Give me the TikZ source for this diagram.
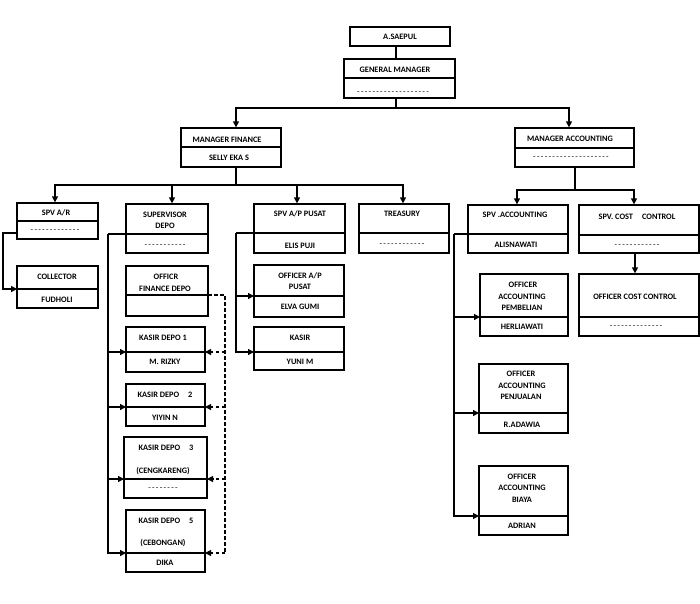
\documentclass[tikz,border=0pt]{standalone}
\usepackage{fontspec}
\setmainfont{Carlito}
\usetikzlibrary{arrows.meta}
\ExplSyntaxOn
\NewDocumentCommand\dashrow{m}{\prg_replicate:nn{#1}{-\kern1.3pt}\kern-1.3pt}
\ExplSyntaxOff
\tikzset{
 box/.style={draw, line width=1.3pt, inner sep=0pt, rectangle},
 divl/.style={line width=1.3pt},
 conn/.style={line width=1.3pt},
 arr/.style={conn, -{Triangle[length=6pt,width=6pt]}},
 dsh/.style={line width=1.1pt, dash pattern=on 3.5pt off 2.5pt},
 darr/.style={dsh, -{Triangle[length=6pt,width=6pt]}},
 txt/.style={inner sep=0pt, font=\bfseries\fontsize{8.3}{10}\selectfont},
 dtxt/.style={inner sep=0pt, font=\fontsize{8.3}{10}\selectfont},
}
\newcommand\obox[6]{%
 \node[box, minimum width={(#4-#2)*1pt}, minimum height={(#5-#3)*1pt}] (#1) at ({(#2+#4)/2},{(#3+#5)/2}) {};
 \coordinate (#1-d) at (#2,#6);
 \coordinate (#1-e) at (#4,#6);
 \draw[divl] (#1-d) -- (#1-e);}
\newcommand\tx[4]{\node[txt] (#1) at (#2,#3) {#4};}
\newcommand\dx[4]{\node[dtxt] (#1) at (#2,#3) {\dashrow{#4}};}
\begin{document}
\begin{tikzpicture}[x=1pt,y=-1pt]
\fill[white] (0,0) rectangle (700,603);
\useasboundingbox (0,0) rectangle (700,603);

% boxes
\node[box, minimum width=100pt, minimum height=19pt] (saepul) at (400,36.5) {};
\obox{gm}{344}{59}{455}{98}{78}
\obox{mf}{181}{128}{281}{167}{147}
\obox{ma}{515}{128}{634}{167}{148}
\obox{spvar}{17}{203}{98}{239}{221}
\obox{coll}{17}{266}{98}{308}{289}
\obox{supdepo}{126}{204}{208}{253}{234}
\obox{ofd}{126}{266}{208}{316}{295}
\obox{kda}{126}{327}{205}{372}{352}
\obox{kdb}{126}{384}{205}{426}{407}
\obox{kdc}{124}{437}{207}{498}{479}
\obox{kdd}{126}{510}{205}{572}{553}
\obox{spvap}{254}{204}{345}{253}{233}
\obox{oap}{254}{265}{344}{317}{296}
\obox{kasir}{254}{327}{344}{370}{352}
\obox{treas}{359}{204}{449}{253}{233}
\obox{spvacc}{468}{205}{568}{253}{234}
\obox{spvcc}{579}{205}{699}{253}{235}
\obox{pemb}{480}{274}{568}{336}{317}
\obox{occ}{579}{274}{699}{336}{317}
\obox{penj}{479}{364}{568}{433}{413}
\obox{biaya}{479}{466}{568}{535}{516}

% texts
\tx{t1}{400}{36.5}{A.SAEPUL}
\tx{t2}{395}{70}{GENERAL MANAGER}
\dx{t3}{393}{93}{19}
\tx{t4}{227}{140}{MANAGER FINANCE}
\tx{t5}{229}{158}{SELLY EKA S}
\tx{t6}{570}{139}{MANAGER ACCOUNTING}
\dx{t7}{571}{158}{20}
\tx{t8}{56}{213}{SPV A/R}
\dx{t9}{55}{231}{13}
\tx{t10}{57}{277}{COLLECTOR}
\tx{t11}{57}{300}{FUDHOLI}
\tx{t12}{165}{215}{SUPERVISOR}
\tx{t13}{165}{226}{DEPO}
\dx{t14}{165}{246}{11}
\tx{t15}{166}{277}{OFFICR}
\tx{t16}{165}{289}{FINANCE DEPO}
\tx{t17}{163}{338}{KASIR DEPO 1}
\tx{t18}{165}{362}{M. RIZKY}
\tx{t19}{165}{395}{KASIR DEPO\hspace{9pt}2}
\tx{t20}{165}{418}{YIYIN N}
\tx{t21}{166}{448}{KASIR DEPO\hspace{9pt}3}
\tx{t22}{163}{471}{(CENGKARENG)}
\dx{t23}{163}{489}{8}
\tx{t24}{166}{521}{KASIR DEPO\hspace{9pt}5}
\tx{t25}{163}{543}{(CEBONGAN)}
\tx{t26}{165}{563}{DIKA}
\tx{t27}{300}{214}{SPV A/P PUSAT}
\tx{t28}{300}{246}{ELIS PUJI}
\tx{t29}{300}{276}{OFFICER A/P}
\tx{t30}{300}{287}{PUSAT}
\tx{t31}{300}{307}{ELVA GUMI}
\tx{t32}{300}{338}{KASIR}
\tx{t33}{300}{362}{YUNI M}
\tx{t34}{402}{214}{TREASURY}
\dx{t35}{402}{245}{12}
\tx{t36}{515}{215}{SPV .ACCOUNTING}
\tx{t37}{516}{245}{ALISNAWATI}
\tx{t38}{637}{217}{SPV. COST\hspace{9pt}CONTROL}
\dx{t39}{637}{246}{12}
\tx{t40}{523}{285}{OFFICER}
\tx{t41}{522}{297}{ACCOUNTING}
\tx{t42}{522}{308}{PEMBELIAN}
\tx{t43}{522}{327}{HERLIAWATI}
\tx{t44}{635}{297}{OFFICER COST CONTROL}
\dx{t45}{636}{327}{14}
\tx{t46}{521}{374}{OFFICER}
\tx{t47}{522}{386}{ACCOUNTING}
\tx{t48}{521}{397}{PENJUALAN}
\tx{t49}{522}{425}{R.ADAWIA}
\tx{t50}{522}{477}{OFFICER}
\tx{t51}{522}{488}{ACCOUNTING}
\tx{t52}{522}{500}{BIAYA}
\tx{t53}{522}{526}{ADRIAN}

% connectors
\draw[conn] ([xshift=-4pt]saepul.south) -- ([xshift=-4pt]saepul.south |- gm.north);
\coordinate (gmbus) at (396,108);
\draw[conn] ([xshift=-3.5pt]gm.south) -- (gmbus);
\draw[arr] (gmbus) -| ([xshift=5pt]mf.north);
\draw[arr] (gmbus) -| ([xshift=-5.5pt]ma.north);

\coordinate (mfbus) at (236,185);
\draw[conn] ([xshift=5pt]mf.south) -- (mfbus);
\draw[arr] (mfbus) -| ([xshift=-2.5pt]spvar.north);
\draw[arr] (mfbus) -| ([xshift=5pt]supdepo.north);
\draw[arr] (mfbus) -| ([xshift=-2.5pt]spvap.north);
\draw[arr] (mfbus) -| ([xshift=-1pt]treas.north);

\coordinate (mabus) at (575,190);
\draw[conn] ([xshift=0.5pt]ma.south) -- (mabus);
\draw[arr] (mabus) -| ([xshift=-1pt]spvacc.north);
\draw[arr] (mabus) -| ([xshift=-5pt]spvcc.north);
\draw[arr] ([xshift=-4pt]spvcc.south) -- ([xshift=-4pt]occ.north);

% SPV A/R -> collector
\coordinate (ars) at (17,233);
\coordinate (arsp) at (3,233);
\draw[arr] (ars) -- (arsp) |- (coll-d);

% supervisor depo spine
\coordinate (sdsp) at (108,234);
\draw[conn] (supdepo-d) -- (sdsp);
\draw[arr] (sdsp) |- (kdd-d);
\draw[arr] (sdsp |- kda-d) -- (kda-d);
\draw[arr] (sdsp |- kdb-d) -- (kdb-d);
\draw[arr] (sdsp |- kdc-d) -- (kdc-d);

% dashed finance depo
\coordinate (dsp) at (225,295);
\draw[dsh] (ofd-e) -- (dsp) -- (dsp |- kdd-e);
\draw[darr] (dsp |- kda-e) -- (kda-e);
\draw[darr] (dsp |- kdb-e) -- (kdb-e);
\draw[darr] (dsp |- kdc-e) -- (kdc-e);
\draw[darr] (dsp |- kdd-e) -- (kdd-e);

% spv a/p spine
\coordinate (apsp) at (236,233);
\draw[conn] (spvap-d) -- (apsp);
\draw[arr] (apsp) |- (kasir-d);
\draw[arr] (apsp |- oap-d) -- (oap-d);

% spv accounting spine
\coordinate (acsp) at (454,234);
\draw[conn] (spvacc-d) -- (acsp);
\draw[arr] (acsp) |- (biaya-d);
\draw[arr] (acsp |- pemb-d) -- (pemb-d);
\draw[arr] (acsp |- penj-d) -- (penj-d);
\end{tikzpicture}
\end{document}
